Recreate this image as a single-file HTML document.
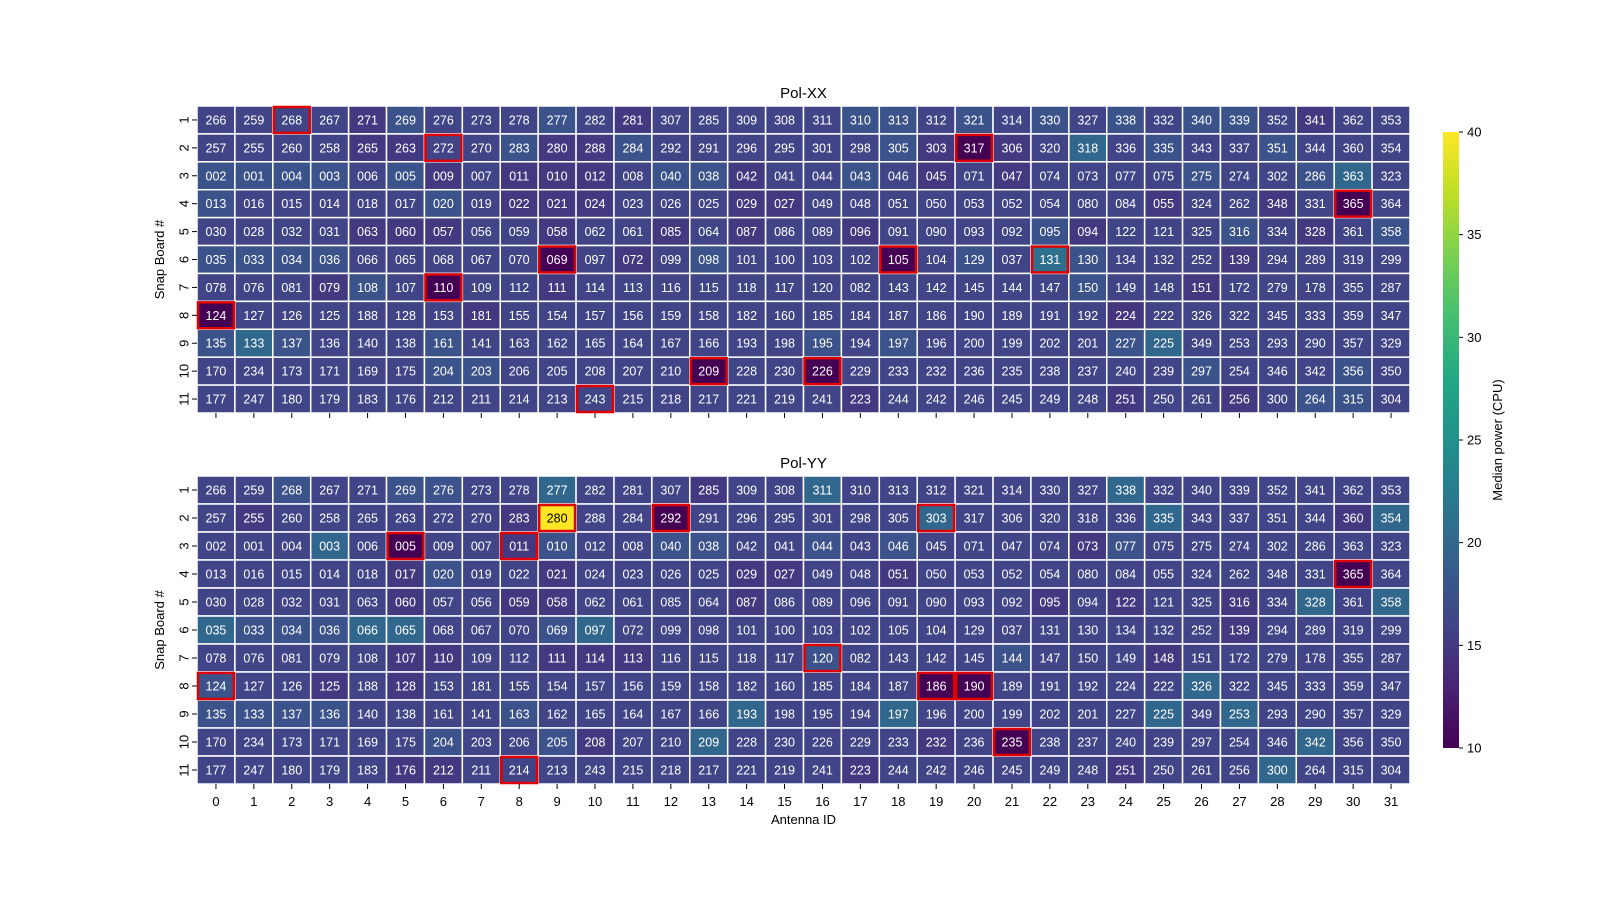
<!DOCTYPE html>
<html><head><meta charset="utf-8"><style>
html,body{margin:0;padding:0;background:#fff;overflow:hidden;width:1600px;height:900px;}
svg{display:block;font-family:"Liberation Sans","DejaVu Sans",sans-serif;}
</style></head><body>
<svg id="chart" width="1600" height="900" viewBox="0 0 1600 900" xmlns="http://www.w3.org/2000/svg">
<defs><linearGradient id="vgrad" x1="0" y1="1" x2="0" y2="0">
<stop offset="0" stop-color="#440154"/><stop offset="0.1" stop-color="#482475"/><stop offset="0.2" stop-color="#414487"/><stop offset="0.3" stop-color="#355f8d"/><stop offset="0.4" stop-color="#2a788e"/><stop offset="0.5" stop-color="#21918c"/><stop offset="0.6" stop-color="#22a884"/><stop offset="0.7" stop-color="#44bf70"/><stop offset="0.8" stop-color="#7ad151"/><stop offset="0.9" stop-color="#bddf26"/><stop offset="1" stop-color="#fde725"/>
</linearGradient></defs>
<g id="root"></g>
</svg>
<script>
const labels = [
"266 259 268 267 271 269 276 273 278 277 282 281 307 285 309 308 311 310 313 312 321 314 330 327 338 332 340 339 352 341 362 353",
"257 255 260 258 265 263 272 270 283 280 288 284 292 291 296 295 301 298 305 303 317 306 320 318 336 335 343 337 351 344 360 354",
"002 001 004 003 006 005 009 007 011 010 012 008 040 038 042 041 044 043 046 045 071 047 074 073 077 075 275 274 302 286 363 323",
"013 016 015 014 018 017 020 019 022 021 024 023 026 025 029 027 049 048 051 050 053 052 054 080 084 055 324 262 348 331 365 364",
"030 028 032 031 063 060 057 056 059 058 062 061 085 064 087 086 089 096 091 090 093 092 095 094 122 121 325 316 334 328 361 358",
"035 033 034 036 066 065 068 067 070 069 097 072 099 098 101 100 103 102 105 104 129 037 131 130 134 132 252 139 294 289 319 299",
"078 076 081 079 108 107 110 109 112 111 114 113 116 115 118 117 120 082 143 142 145 144 147 150 149 148 151 172 279 178 355 287",
"124 127 126 125 188 128 153 181 155 154 157 156 159 158 182 160 185 184 187 186 190 189 191 192 224 222 326 322 345 333 359 347",
"135 133 137 136 140 138 161 141 163 162 165 164 167 166 193 198 195 194 197 196 200 199 202 201 227 225 349 253 293 290 357 329",
"170 234 173 171 169 175 204 203 206 205 208 207 210 209 228 230 226 229 233 232 236 235 238 237 240 239 297 254 346 342 356 350",
"177 247 180 179 183 176 212 211 214 213 243 215 218 217 221 219 241 223 244 242 246 245 249 248 251 250 261 256 300 264 315 304"
];
const rowLabels = ["1","2","3","4","5","6","7","8","9","10","11"];
const colLabels = Array.from({length:32},(_,i)=>String(i));
const colorTicks = [10,15,20,25,30,35,40];
const valuesXX = [
[16,16,16,16,15,17.5,16,16,16,17.5,16,15,16,16,16,16,16,17.5,17.5,16,17.5,16,17.5,16,17.5,16,17.5,17.5,16,15,16,16],
[16,16,16,16,15,15,16,16,17.5,15,15,17.5,16,16,16,16,16,16,17.5,15,10,15,16,20,16,17.5,16,16,17.5,16,16,16],
[17.5,17.5,17.5,17.5,16,17.5,15,16,15,15,15,16,17.5,17.5,15,16,16,17.5,16,15,16,15,16,16,16,16,17.5,16,16,17.5,20,16],
[17.5,16,16,16,16,16,17.5,16,15,15,15,16,16,16,15,15,16,16,16,16,16,16,16,16,16,15,16,16,15,16,10,16],
[16,16,16,16,15,15,15,16,16,15,16,16,15,16,15,16,16,15,16,16,16,16,17.5,15,16,16,16,17.5,16,15,16,17.5],
[17.5,17.5,17.5,17.5,16,16,16,16,16,10,16,15,16,17.5,16,16,16,16,10,16,17.5,16,21,17.5,16,16,16,15,16,16,16,16],
[16,16,16,15,17.5,16,10,16,16,15,16,16,16,16,16,16,16,16,16,16,16,16,16,17.5,16,16,15,16,16,16,16,16],
[10,16,16,16,16,16,16,15,16,16,16,16,16,16,16,16,16,16,16,16,16,16,16,16,14.5,16,16,16,16,16,16,16],
[17.5,20,17.5,16,16,16,17.5,16,16,16,16,16,16,16,16,16,17.5,16,17.5,16,16,16,16,16,17.5,20,16,16,16,16,16,16],
[16,16,16,16,16,16,17.5,17.5,16,16,16,16,16,10,16,16,10,16,16,16,16,16,16,16,16,16,17.5,16,16,16,17.5,16],
[16,16,16,16,16,16,16,16,16,16,16,16,16,16,16,16,16,15,16,16,16,16,16,16,15,16,16,15,16,17.5,17.5,16]
];
const valuesYY = [
[16,16,17.5,16,16,17.5,17.5,16,16,20,16,16,16,15,16,16,20,16,16,16,16,16,16,16,20,16,16,16,16,16,16,16],
[16,15,16,16,16,16,16,16,15,40,16,16,10,16,16,16,16,16,16,20,16,16,16,16,16,20,16,16,16,16,15,20],
[16,16,16,20,16,10,16,16,15,17.5,16,16,17.5,17.5,16,16,17.5,16,17.5,16,16,16,16,15,17.5,16,16,16,16,16,16,16],
[16,16,16,16,16,15,17.5,16,16,15,16,16,16,16,15,15,16,16,15,16,16,16,16,16,16,16,16,16,16,16,10,16],
[16,16,16,16,16,15,16,16,15,15,16,16,16,16,15,16,16,16,16,16,16,16,15,16,15,16,16,15,16,20,16,20],
[20,17.5,17.5,17.5,20,20,16,16,16,17.5,20,16,16,16,16,16,16,16,16,16,16,16,16,16,16,16,16,15,16,16,16,16],
[16,16,16,16,16,15,15,16,16,15,15,15,16,16,16,16,17.5,16,16,16,16,17.5,16,16,16,15,16,16,16,16,16,16],
[17.5,16,16,15,16,15,16,16,16,16,16,16,16,16,16,16,16,16,16,10,10,16,16,16,16,16,20,16,16,16,16,16],
[17.5,17.5,17.5,17.5,16,16,16,16,17.5,16,16,16,16,16,20,16,16,16,20,16,16,16,16,16,16,20,16,20,16,16,16,16],
[16,16,16,16,16,16,17.5,16,16,17.5,15,16,16,20,16,16,16,16,16,15,16,10,16,16,16,16,16,16,16,20,16,16],
[16,16,16,16,16,15,15,16,16,16,16,16,16,16,16,16,16,15,16,16,16,16,16,16,15,16,16,16,20,16,16,16]
];
const flaggedXX = [[0,2],[1,6],[1,20],[3,30],[5,9],[5,18],[5,22],[6,6],[7,0],[9,13],[9,16],[10,10]];
const flaggedYY = [[1,9],[1,12],[1,19],[2,5],[2,8],[3,30],[6,16],[7,0],[7,19],[7,20],[9,21],[10,8]];

const NS="http://www.w3.org/2000/svg";
const root=document.getElementById('root');
const vmin=10,vmax=40;
const X0=197,X1=1410,CW=(X1-X0)/32;
const panels=[{title:"Pol-XX",y0:106,y1:413,vals:valuesXX,flags:flaggedXX,name:"xx"},
              {title:"Pol-YY",y0:476,y1:784,vals:valuesYY,flags:flaggedYY,name:"yy"}];
const stops=[[68,1,84],[72,36,117],[65,68,135],[53,95,141],[42,120,142],[33,145,140],[34,168,132],[68,191,112],[122,209,81],[189,223,38],[253,231,37]];
function viridis(v){let t=Math.max(0,Math.min(1,(v-vmin)/(vmax-vmin)))*10;const i=Math.min(9,Math.floor(t)),f=t-i;
 const c=stops[i].map((a,k)=>Math.round(a+(stops[i+1][k]-a)*f));return `rgb(${c[0]},${c[1]},${c[2]})`;}
function el(tag,attrs,parent){const e=document.createElementNS(NS,tag);for(const k in attrs)e.setAttribute(k,attrs[k]);(parent||root).appendChild(e);return e;}
function xPos(c){return X0+c*CW;}

panels.forEach((p,pi)=>{
 const RH=(p.y1-p.y0)/11;
 const yPos=r=>p.y0+r*RH;
 const g=el('g',{});
 
 
 const t=el('text',{x:(X0+X1)/2,y:p.y0-8,'text-anchor':'middle','font-size':15,fill:'#000'},g);t.textContent=p.title;
 
 
 p.vals.forEach((row,r)=>row.forEach((v,c)=>{
  const rc=el('rect',{x:xPos(c),y:yPos(r),width:CW,height:RH,fill:viridis(v),stroke:'#fff','stroke-width':1.5},g);
  
  
  const tx=el('text',{x:xPos(c)+CW/2,y:yPos(r)+RH/2+4.5,'text-anchor':'middle','font-size':12.5,fill:v>32?'#000':'#fff'},g);
  tx.textContent=labels[r].split(' ')[c];
  
  
 }));
 p.flags.forEach(([r,c])=>{
  const b=el('rect',{x:xPos(c)+1,y:yPos(r)+1,width:CW-2,height:RH-2,fill:'none',stroke:'#e00000','stroke-width':2.5},g);
  
  
 });
 rowLabels.forEach((l,r)=>{
  const cy=yPos(r)+RH/2;
  el('line',{x1:X0-5,x2:X0,y1:cy,y2:cy,stroke:'#000','stroke-width':1},g);
  const tl=el('text',{x:X0-12,y:cy,'text-anchor':'middle','font-size':13,transform:`rotate(-90 ${X0-12} ${cy})`,'dominant-baseline':'middle'},g);
  tl.textContent=l;
  
  
 });
 colLabels.forEach((l,c)=>{
  const cx=xPos(c)+CW/2;
  el('line',{x1:cx,x2:cx,y1:p.y1,y2:p.y1+5,stroke:'#000','stroke-width':1},g);
  if(pi===1){const tl=el('text',{x:cx,y:p.y1+22,'text-anchor':'middle','font-size':13},g);tl.textContent=l;
   
   }
 });
 const cy=(p.y0+p.y1)/2;
 const yt=el('text',{x:164,y:cy,'text-anchor':'middle','font-size':13,transform:`rotate(-90 164 ${cy})`},g);yt.textContent='Snap Board #';
 
 
});
const xt=el('text',{x:(X0+X1)/2,y:824,'text-anchor':'middle','font-size':13});xt.textContent='Antenna ID';


const CB={x:1443,w:16,y0:132,y1:748};
const cb=el('rect',{x:CB.x,y:CB.y0,width:CB.w,height:CB.y1-CB.y0,fill:'url(#vgrad)'});


colorTicks.forEach(v=>{
 const y=CB.y1-(v-vmin)/(vmax-vmin)*(CB.y1-CB.y0);
 el('line',{x1:CB.x+CB.w,x2:CB.x+CB.w+4,y1:y,y2:y,stroke:'#000'});
 const tl=el('text',{x:CB.x+CB.w+8,y:y+4.5,'font-size':13});tl.textContent=v;
 
 
});
const ct=el('text',{x:1502,y:440,'text-anchor':'middle','font-size':13,transform:'rotate(-90 1502 440)'});ct.textContent='Median power (CPU)';


</script>
</body></html>
